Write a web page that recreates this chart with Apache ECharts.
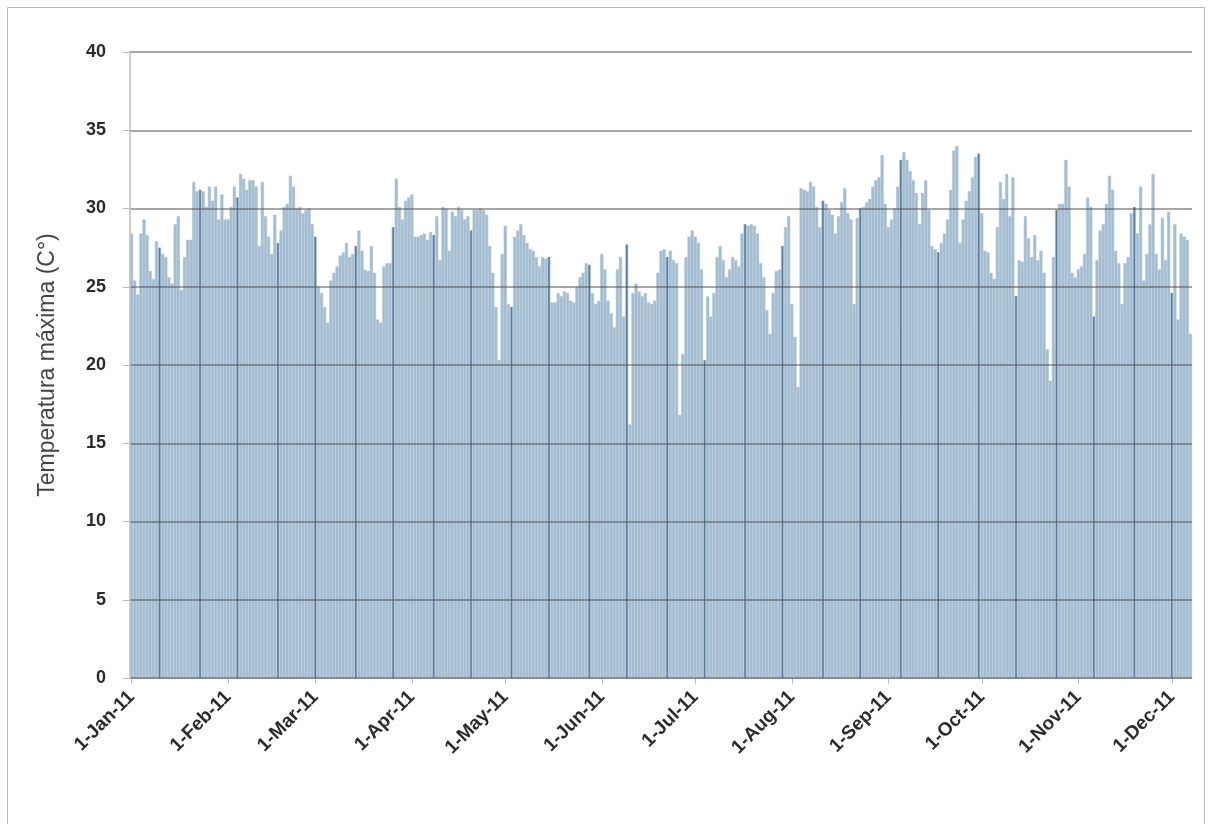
<!DOCTYPE html>
<html>
<head>
<meta charset="utf-8">
<script src="https://cdn.jsdelivr.net/npm/echarts@6/dist/echarts.min.js"></script>
<style>
  html, body { margin: 0; padding: 0; background: #ffffff; }
  #chart { width: 1208px; height: 824px; }
</style>
</head>
<body>
<div id="chart"></div>
<script>
// ---- Data (daily maximum temperature, 2011) ----
const monthNames = ['Jan','Feb','Mar','Apr','May','Jun','Jul','Aug','Sep','Oct','Nov','Dec'];
const yearSuffix = '11';

const jan = [28.4,25.4,24.5,28.4,29.3,28.3,26.0,25.5,27.9,27.5,27.1,26.9,25.6,25.2,29.0,29.5,24.8,26.9,28.0,28.0,31.7,31.1,31.2,31.1,30.1,31.4,30.5,31.4,29.3,30.9,29.3];
const feb = [29.3,30.1,31.4,30.7,32.2,31.9,31.2,31.8,31.8,31.4,27.6,31.7,29.5,28.2,27.1,29.6,27.8,28.6,30.1,30.3,32.1,31.4,30.0,30.1,29.7,29.9,30.0,29.0];
const mar = [28.2,25.0,24.6,23.7,22.7,25.4,25.9,26.3,27.0,27.2,27.8,26.9,27.1,27.6,28.6,27.3,26.1,26.0,27.6,25.9,22.9,22.7,26.3,26.5,26.5,28.8,31.9,30.1,29.3,30.5,30.7];
const apr = [30.9,28.2,28.2,28.3,28.4,28.0,28.5,28.3,29.5,26.7,30.1,30.0,27.3,29.8,29.5,30.1,29.9,29.3,29.5,28.6,29.9,29.9,30.0,29.9,29.6,27.6,25.9,23.7,20.3,27.1];
const may = [28.9,23.9,23.7,28.2,28.6,29.0,28.3,27.8,27.4,27.3,26.9,26.3,26.9,26.8,26.9,24.0,24.0,24.6,24.4,24.7,24.6,24.1,24.0,25.0,25.6,25.9,26.5,26.4,24.6,23.9,24.1];
const jun = [27.1,26.1,24.1,23.3,22.4,26.1,26.9,23.1,27.7,16.2,24.6,25.2,24.7,24.4,24.6,24.0,23.9,24.1,25.9,27.3,27.4,26.9,27.3,26.7,26.5,16.8,20.7,26.9,28.2,28.6];
const jul = [28.2,27.8,26.1,20.3,24.4,23.1,24.6,26.9,27.6,26.7,25.6,26.1,26.9,26.7,26.3,28.4,29.0,28.9,29.0,28.9,28.4,26.5,25.6,23.5,22.0,24.6,26.0,26.1,27.6,28.8,29.5];
const aug = [23.9,21.8,18.6,31.3,31.2,31.1,31.7,31.4,30.1,28.8,30.5,30.3,29.9,29.6,28.4,29.5,30.4,31.3,29.7,29.3,23.9,29.4,30.0,30.1,30.4,30.6,31.4,31.8,32.0,33.4,30.3];
const sep = [28.8,29.3,30.0,31.4,33.1,33.6,33.1,32.4,31.8,31.0,29.0,31.0,31.8,29.9,27.6,27.4,27.2,27.8,28.4,29.3,31.2,33.7,34.0,27.8,29.3,30.5,31.1,32.0,33.3,33.5];
const oct = [29.7,27.3,27.2,25.9,25.5,28.8,31.7,30.6,32.2,29.5,32.0,24.4,26.7,26.6,29.5,28.1,26.9,28.3,26.7,27.3,25.9,21.0,19.0,26.9,29.9,30.3,30.3,33.1,31.4,25.9,25.6];
const nov = [26.1,26.3,27.1,30.7,30.1,23.1,26.7,28.6,29.0,30.3,32.1,31.2,27.3,26.5,23.9,26.5,26.9,29.7,30.1,28.4,31.4,25.4,27.1,29.0,32.2,27.1,26.1,29.4,26.7,29.8];
const dec = [24.6,29.0,22.9,28.4,28.2,28.0,22.0];

const yTicks = [0, 5, 10, 15, 20, 25, 30, 35, 40];

// ---- Build categories and series ----
const months = [jan, feb, mar, apr, may, jun, jul, aug, sep, oct, nov, dec];
const categories = [];
const values = [];
months.forEach((arr, m) => {
  arr.forEach((v, i) => {
    categories.push((i + 1) + '-' + monthNames[m] + '-' + yearSuffix);
    values.push(v);
  });
});

const isMonthStart = (index, value) => {
  const v = value !== undefined ? value : categories[index];
  return typeof v === 'string' && v.indexOf('1-') === 0;
};

// darker stripe pattern visible inside the bars of the original picture
const isStripe = (i) => {
  const r = (((i - 9) % 12.5) + 12.5) % 12.5;
  return r <= 0.5;
};
const stripeValues = values.map((v, i) => (isStripe(i) ? v : '-'));

const fontFam = 'Liberation Sans, Arial, sans-serif';

const chart = echarts.init(document.getElementById('chart'), null, { renderer: 'canvas' });
chart.setOption({
  animation: false,
  backgroundColor: '#ffffff',
  graphic: [{
    type: 'rect',
    silent: true,
    shape: { x: 7.5, y: 7.5, width: 1197, height: 840 },
    style: { fill: 'none', stroke: '#b9b9b9', lineWidth: 1 }
  }],
  grid: { left: 130, right: 16, top: 52, bottom: 146, containLabel: false },
  xAxis: [{
    type: 'category',
    data: categories,
    boundaryGap: true,
    axisLine: { show: true, lineStyle: { color: '#c4c4c4', width: 1 } },
    axisTick: {
      show: true,
      alignWithLabel: true,
      interval: isMonthStart,
      length: 6,
      lineStyle: { color: '#bcbcbc', width: 1 }
    },
    axisLabel: {
      interval: isMonthStart,
      rotate: 45,
      margin: 16,
      color: '#2b2b2b',
      fontFamily: fontFam,
      fontWeight: 'bold',
      fontSize: 19
    },
    splitLine: { show: false }
  }, {
    type: 'category',
    data: categories,
    boundaryGap: true,
    show: false
  }],
  yAxis: {
    type: 'value',
    min: yTicks[0],
    max: yTicks[yTicks.length - 1],
    interval: 5,
    z: 4,
    name: 'Temperatura máxima (C°)',
    nameLocation: 'middle',
    nameGap: 71,
    nameRotate: 90,
    nameTextStyle: {
      color: '#444444',
      fontFamily: fontFam,
      fontSize: 23
    },
    axisLine: { show: true, lineStyle: { color: '#b8bfc8', width: 1.5 } },
    axisTick: { show: true, length: 7, lineStyle: { color: '#bcbcbc' } },
    axisLabel: {
      margin: 24,
      color: '#2b2b2b',
      fontFamily: fontFam,
      fontWeight: 'bold',
      fontSize: 18
    },
    splitLine: { show: true, lineStyle: { color: 'rgba(80,80,80,0.5)', width: 2 } }
  },
  series: [{
    type: 'bar',
    data: values,
    barCategoryGap: '0%',
    itemStyle: { color: '#a4bed1', borderColor: '#a8c1d3', borderWidth: 0.5 },
    z: 2
  }, {
    type: 'bar',
    xAxisIndex: 1,
    data: stripeValues,
    barWidth: 1.5,
    itemStyle: { color: 'rgba(55,95,140,0.7)' },
    z: 3
  }]
});
</script>
</body>
</html>
